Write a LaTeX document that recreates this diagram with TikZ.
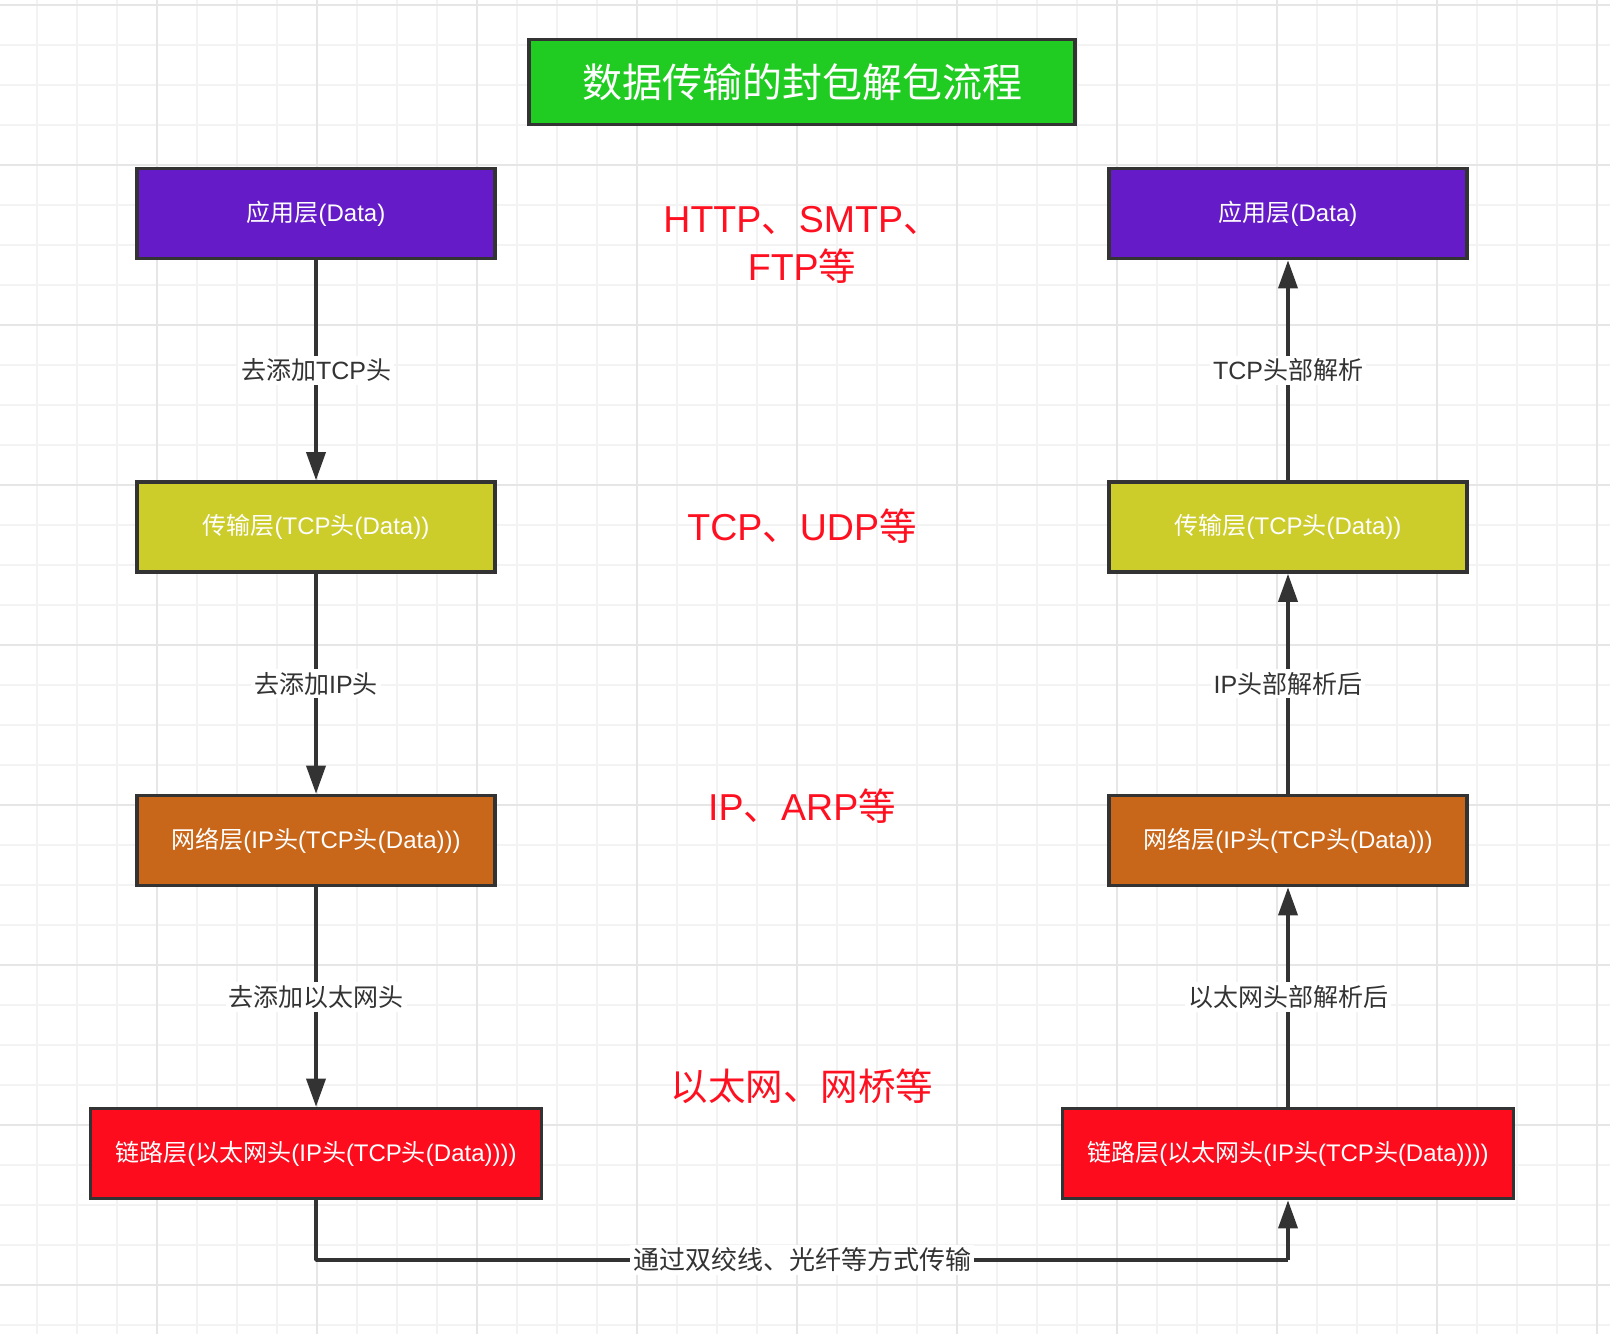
\documentclass[tikz,border=0pt]{standalone}
\usepackage{fontspec}
\setmainfont{Noto Sans CJK SC}
\newfontfamily\latfont{Liberation Sans}
\newcommand{\lt}[1]{{\latfont #1}}
\usetikzlibrary{arrows.meta}
\definecolor{gridminor}{HTML}{F3F3F3}
\definecolor{gridmajor}{HTML}{E6E6E6}
\definecolor{edgecol}{HTML}{333333}
\definecolor{titlegreen}{HTML}{20CC22}
\definecolor{apppurple}{HTML}{651CC8}
\definecolor{transyellow}{HTML}{CCCC2B}
\definecolor{netorange}{HTML}{C8661A}
\definecolor{linkred}{HTML}{FD0C1E}
\definecolor{protored}{HTML}{FF1020}
\tikzset{
  minorgrid/.style={draw=gridminor, line width=1.6pt},
  majorgrid/.style={draw=gridmajor, line width=1.8pt},
  layerbox/.style={draw=edgecol, line width=3.6pt, minimum width=358pt, minimum height=90pt,
    inner sep=0pt, text=white, font=\fontsize{24}{29}\selectfont},
  linkbox/.style={layerbox, minimum width=451pt},
  titlebox/.style={draw=edgecol, line width=3.6pt, fill=titlegreen, minimum width=546pt,
    minimum height=85pt, inner sep=0pt, text=white, font=\fontsize{40}{48}\selectfont},
  arr/.style={draw=edgecol, line width=3.6pt, -{Triangle[length=28pt,width=19pt]}},
  plain/.style={draw=edgecol, line width=3.6pt},
  lbl/.style={fill=white, text=edgecol, inner sep=3pt, font=\fontsize{25}{30}\selectfont},
  bottomlbl/.style={lbl, font=\fontsize{26}{31}\selectfont},
  proto/.style={text=protored, align=center, inner sep=0pt, font=\fontsize{37.5}{48}\selectfont}
}
\begin{document}
\begin{tikzpicture}[x=1pt,y=-1pt]
\useasboundingbox (0,0) rectangle (1610,1334);
\fill[white] (0,0) rectangle (1610,1334);
% grid
\foreach \x in {37,77,...,1610} \draw[minorgrid] (\x,0) -- (\x,1334);
\foreach \y in {5,45,...,1334} \draw[minorgrid] (0,\y) -- (1610,\y);
\foreach \x in {157,317,...,1610} \draw[majorgrid] (\x,0) -- (\x,1334);
\foreach \y in {5,165,...,1334} \draw[majorgrid] (0,\y) -- (1610,\y);

% title
\node[titlebox] (title) at (802,82) {数据传输的封包解包流程};

% left column
\node[layerbox, fill=apppurple] (l1) at (316,213.5) {应用层\lt{(Data)}};
\node[layerbox, fill=transyellow] (l2) at (316,527) {传输层\lt{(TCP}头\lt{(Data))}};
\node[layerbox, fill=netorange] (l3) at (316,840.5) {网络层\lt{(IP}头\lt{(TCP}头\lt{(Data)))}};
\node[linkbox, fill=linkred] (l4) at (316,1153.5) {链路层\lt{(}以太网头\lt{(IP}头\lt{(TCP}头\lt{(Data))))}};

% right column
\node[layerbox, fill=apppurple] (r1) at (1288,213.5) {应用层\lt{(Data)}};
\node[layerbox, fill=transyellow] (r2) at (1288,527) {传输层\lt{(TCP}头\lt{(Data))}};
\node[layerbox, fill=netorange] (r3) at (1288,840.5) {网络层\lt{(IP}头\lt{(TCP}头\lt{(Data)))}};
\node[linkbox, fill=linkred] (r4) at (1288,1153.5) {链路层\lt{(}以太网头\lt{(IP}头\lt{(TCP}头\lt{(Data))))}};

% protocol texts
\node[proto] (p1) at (802,245) {\lt{HTTP}、\lt{SMTP}、\\\lt{FTP}等};
\node[proto] (p2) at (802,526) {\lt{TCP}、\lt{UDP}等};
\node[proto] (p3) at (802,806) {\lt{IP}、\lt{ARP}等};
\node[proto] (p4) at (802,1086) {以太网、网桥等};

% left connectors
\draw[arr] (l1.south) -- node[lbl] {去添加\lt{TCP}头} (l2.north);
\draw[arr] (l2.south) -- node[lbl] {去添加\lt{IP}头} (l3.north);
\draw[arr] (l3.south) -- node[lbl] {去添加以太网头} (l4.north);

% right connectors
\draw[arr] (r2.north) -- node[lbl] {\lt{TCP}头部解析} (r1.south);
\draw[arr] (r3.north) -- node[lbl] {\lt{IP}头部解析后} (r2.south);
\draw[arr] (r4.north) -- node[lbl] {以太网头部解析后} (r3.south);

% bottom connector
\coordinate (bl) at (316,1260);
\coordinate (br) at (1288,1260);
\draw[plain, line join=round] (l4.south) -- (bl) -- (br);
\draw[arr, line join=round] (br) -- (r4.south);
\node[bottomlbl] (blabel) at (802,1260) {通过双绞线、光纤等方式传输};
\end{tikzpicture}
\end{document}
